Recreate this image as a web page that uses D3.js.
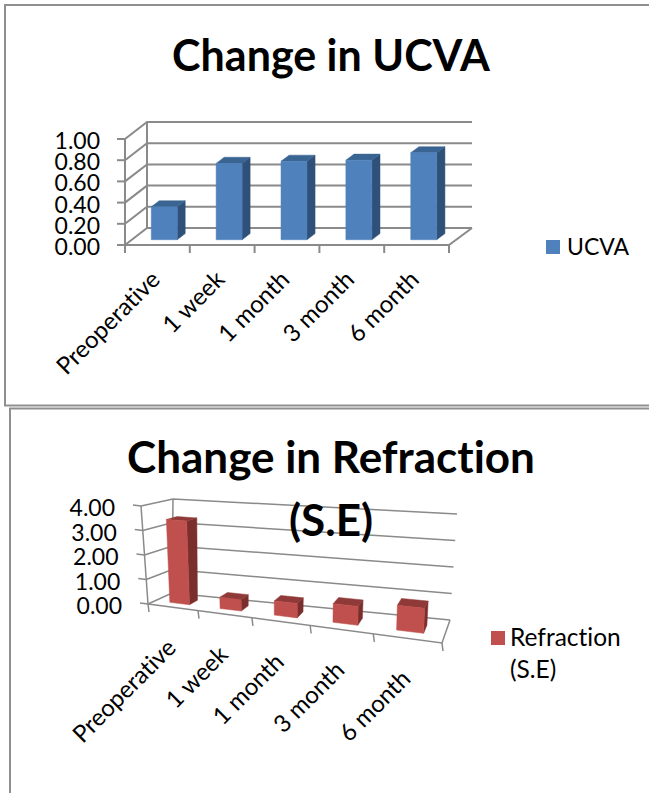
<!DOCTYPE html>
<html>
<head>
<meta charset="utf-8">
<style>
html,body{margin:0;padding:0;background:#fff;overflow:hidden}
text{font-family:Lato,"Open Sans",sans-serif;fill:#000;font-variant-ligatures:none}
</style>
<script src="https://cdn.jsdelivr.net/npm/d3@7/dist/d3.min.js"></script>
</head>
<body>
<svg id="chart" width="649" height="793"></svg>
<script>
// Shared categories for both 3D column charts
const categories = ["Preoperative", "1 week", "1 month", "3 month", "6 month"];

// Uncorrected visual acuity
const ucvaValues = [0.31, 0.72, 0.74, 0.75, 0.82];
const ucvaTicks = [0, 0.2, 0.4, 0.6, 0.8, 1.0];

// Spherical equivalent refraction
const refractionValues = [3.4, 0.45, 0.55, 0.7, 0.9];
const refractionTicks = [0, 1, 2, 3, 4];

const svg = d3.select("#chart");
const outline = d3.line().x(d => d[0]).y(d => d[1]);

// Maps category position, depth and height onto the box of a 3D chart.
// `fore` is the foreshortening along the category axis (1 = none).
function makeProjection(box, fore) {
  const lerp = (a, b, t) => [a[0] + (b[0] - a[0]) * t, a[1] + (b[1] - a[1]) * t];
  return (u, v, w) => {
    const t = fore * u / (1 + (fore - 1) * u);
    const floor = lerp(lerp(box.fl, box.fr, t), lerp(box.bl, box.br, t), v);
    const roof = lerp(lerp(box.tfl, box.tfr, t), lerp(box.tbl, box.tbr, t), v);
    return lerp(floor, roof, w);
  };
}

function drawChart(cfg) {
  const g = svg.append("g");
  const project = makeProjection(cfg.box, cfg.fore);
  const x = d3.scaleBand().domain(cfg.categories).range([0, 1]).paddingInner(0.6).paddingOuter(0.3);
  const edge = d3.scaleBand().domain(cfg.categories).range([0, 1]);
  const y = d3.scaleLinear().domain(d3.extent(cfg.ticks)).range([0, 1]);

  const stroke = (pts, w = cfg.lineWidth) => g.append("path")
    .attr("d", outline(pts)).attr("fill", "none")
    .attr("stroke", "#8a8a8a").attr("stroke-width", w);

  // Gridlines across the back wall and down the side wall
  cfg.ticks.forEach(t => {
    const w = y(t);
    stroke([project(0, 0, w), project(0, 1, w), project(1, 1, w)]);
    const a = project(0, 0, w);
    stroke([[a[0] - 8, a[1] + (cfg.tickSlope || 0)], a]);
    g.append("text").attr("x", a[0] + cfg.labelDx).attr("y", a[1] + 10)
      .attr("text-anchor", "end").attr("font-size", cfg.tickFont)
      .text(d3.format(".2f")(t));
  });

  // Wall verticals and floor outline
  stroke([project(0, 0, 0), project(0, 0, 1)]);
  stroke([project(0, 1, 0), project(0, 1, 1)]);
  stroke([project(0, 0, 0), project(1, 0, 0), project(1, 1, 0)]);

  // Category ticks and slanted labels
  const cats = cfg.categories;
  cats.concat([null]).forEach(c => {
    const u = c === null ? 1 : edge(c);
    const a = project(u, 0, 0);
    stroke([a, [a[0] - cfg.tickLean, a[1] + 8]]);
  });
  cats.forEach(c => {
    const a = project(edge(c) + edge.bandwidth() / 2, 0, 0);
    const px = a[0] + cfg.catDx, py = a[1] + cfg.catDy;
    g.append("text").attr("transform", `translate(${px},${py}) rotate(-45)`)
      .attr("text-anchor", "end").attr("font-size", cfg.catFont).text(c);
  });

  // Columns: side, top, then front face
  const v0 = 0.31, v1 = 0.67;
  cats.forEach((c, i) => {
    const u0 = x(c), u1 = x(c) + x.bandwidth(), w = y(cfg.values[i]);
    const face = (pts, fill) => g.append("path").attr("d", outline(pts) + "Z").attr("fill", fill)
      .attr("stroke", fill).attr("stroke-width", 0.5);
    face([project(u1, v0, 0), project(u1, v1, 0), project(u1, v1, w), project(u1, v0, w)], cfg.side);
    face([project(u0, v0, w), project(u1, v0, w), project(u1, v1, w), project(u0, v1, w)], cfg.top);
    face([project(u0, v0, 0), project(u1, v0, 0), project(u1, v0, w), project(u0, v0, w)], cfg.front);
  });

  // Title lines
  cfg.title.forEach((line, i) => {
    g.append("text").attr("x", 331).attr("y", cfg.titleY + i * 63)
      .attr("text-anchor", "middle").attr("font-size", cfg.titleFont).attr("font-weight", 700).text(line);
  });

  // Legend
  g.append("rect").attr("x", cfg.legend.x).attr("y", cfg.legend.y).attr("width", 14).attr("height", 14).attr("fill", cfg.front);
  cfg.legend.lines.forEach((line, i) => {
    g.append("text").attr("x", cfg.legend.x + cfg.legend.gap).attr("y", cfg.legend.y + 15 + i * 32)
      .attr("font-size", cfg.legend.font).text(line);
  });
}

// Frames around the two charts
const frame = (pts) => svg.append("path").attr("d", outline(pts)).attr("fill", "none")
  .attr("stroke", "#8f8f8f").attr("stroke-width", 2);
frame([[649, 5], [5, 5], [5, 405.5], [649, 405.5]]);
frame([[10, 793], [10, 408.5], [649, 408.5]]);

drawChart({
  categories, values: ucvaValues, ticks: ucvaTicks,
  title: ["Change in UCVA"], titleY: 71, titleFont: 43,
  box: {
    fl: [125, 245], fr: [449, 245], bl: [147, 228], br: [472, 228],
    tfl: [125, 139], tfr: [449, 139], tbl: [147, 122], tbr: [472, 122]
  },
  fore: 1, lineWidth: 2, tickLean: 0, labelDx: -25, tickFont: 23, catFont: 24, catDx: 4, catDy: 36,
  front: "#4f81bd", side: "#2f5079", top: "#3a6491",
  legend: { x: 546, y: 240, gap: 21, font: 23, lines: ["UCVA"] }
});

drawChart({
  categories, values: refractionValues, ticks: refractionTicks,
  title: ["Change in Refraction", "(S.E)"], titleY: 473, titleFont: 44,
  box: {
    fl: [148, 604], fr: [442, 643], bl: [172, 593], br: [450, 620],
    tfl: [141, 506], tfr: [446, 528], tbl: [173, 499], tbr: [457, 514]
  },
  fore: 0.82, lineWidth: 1.5, tickLean: -1, tickSlope: -1, labelDx: -26, tickFont: 23, catFont: 24, catDx: 5, catDy: 42,
  front: "#c0504d", side: "#7b2f2d", top: "#8f3a38",
  legend: { x: 491, y: 631, gap: 19, font: 24.5, lines: ["Refraction", "(S.E)"] }
});
</script>
</body>
</html>
